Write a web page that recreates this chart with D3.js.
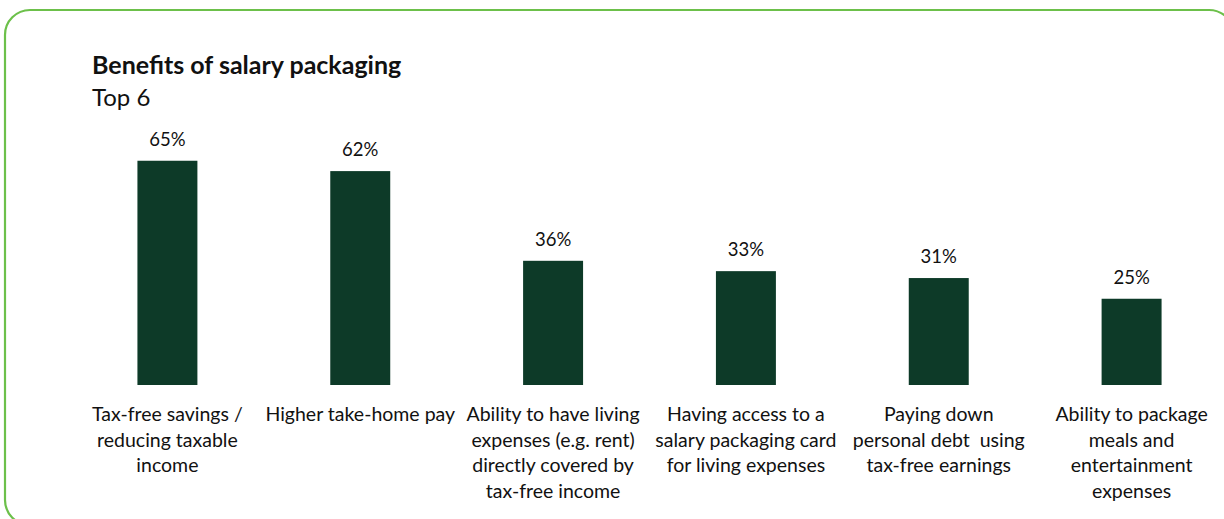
<!DOCTYPE html>
<html>
<head>
<meta charset="utf-8">
<script src="https://cdn.jsdelivr.net/npm/d3@7"></script>
<style>
  html, body { margin: 0; padding: 0; background: #ffffff; }
  svg { display: block; }
  text { font-family: Lato, "Open Sans", "Noto Sans", sans-serif; fill: #111111; }
</style>
</head>
<body>
<svg id="chart" width="1224" height="519"></svg>
<script>
// Survey results: share of respondents naming each benefit
const categories = [
  ["Tax-free savings /", "reducing taxable", "income"],
  ["Higher take-home pay"],
  ["Ability to have living", "expenses (e.g. rent)", "directly covered by", "tax-free income"],
  ["Having access to a", "salary packaging card", "for living expenses"],
  ["Paying down", "personal debt  using", "tax-free earnings"],
  ["Ability to package", "meals and", "entertainment", "expenses"]
];
const values = [65, 62, 36, 33, 31, 25];
const valueLabels = ["65%", "62%", "36%", "33%", "31%", "25%"];

const title = "Benefits of salary packaging";
const subtitle = "Top 6";

const W = 1224, H = 519;
const svg = d3.select("#chart");

// Rounded frame around the panel
svg.append("rect")
  .attr("x", 5).attr("y", 10)
  .attr("width", 1229).attr("height", 515)
  .attr("rx", 25).attr("ry", 25)
  .attr("fill", "none")
  .attr("stroke", "#6cc04a")
  .attr("stroke-width", 2.2);

svg.append("text")
  .attr("x", 92).attr("y", 74)
  .style("font-size", "25px")
  .style("font-weight", "700")
  .text(title);

svg.append("text")
  .attr("x", 92).attr("y", 106)
  .style("font-size", "24px")
  .text(subtitle);

const idx = d3.range(values.length);
const x = d3.scaleBand()
  .domain(idx)
  .range([71, 1228])
  .paddingInner(0.689)
  .paddingOuter(0.3445);

const baseline = 385;
const y = d3.scaleLinear().domain([0, 100]).range([baseline, baseline - 345]);

const g = svg.append("g");

g.selectAll("rect.bar")
  .data(values)
  .join("rect")
  .attr("class", "bar")
  .attr("x", (d, i) => x(i))
  .attr("width", x.bandwidth())
  .attr("y", d => y(d))
  .attr("height", d => y(0) - y(d))
  .attr("fill", "#0d3a28");

g.selectAll("text.val")
  .data(values)
  .join("text")
  .attr("class", "val")
  .attr("x", (d, i) => x(i) + x.bandwidth() / 2)
  .attr("y", d => y(d) - 15)
  .attr("text-anchor", "middle")
  .style("font-size", "18.5px")
  .text((d, i) => valueLabels[i]);

// Multi-line category labels under the bars
const lineH = 25.6;
const cat = g.selectAll("text.cat")
  .data(categories)
  .join("text")
  .attr("class", "cat")
  .attr("text-anchor", "middle")
  .style("font-size", "19.5px")
  .attr("x", (d, i) => x(i) + x.bandwidth() / 2)
  .attr("y", 421);

cat.selectAll("tspan")
  .data((d, i) => d.map(s => ({ s, i })))
  .join("tspan")
  .attr("x", d => x(d.i) + x.bandwidth() / 2)
  .attr("dy", (d, j) => j === 0 ? 0 : lineH)
  .style("white-space", "pre")
  .text(d => d.s);
</script>
</body>
</html>
